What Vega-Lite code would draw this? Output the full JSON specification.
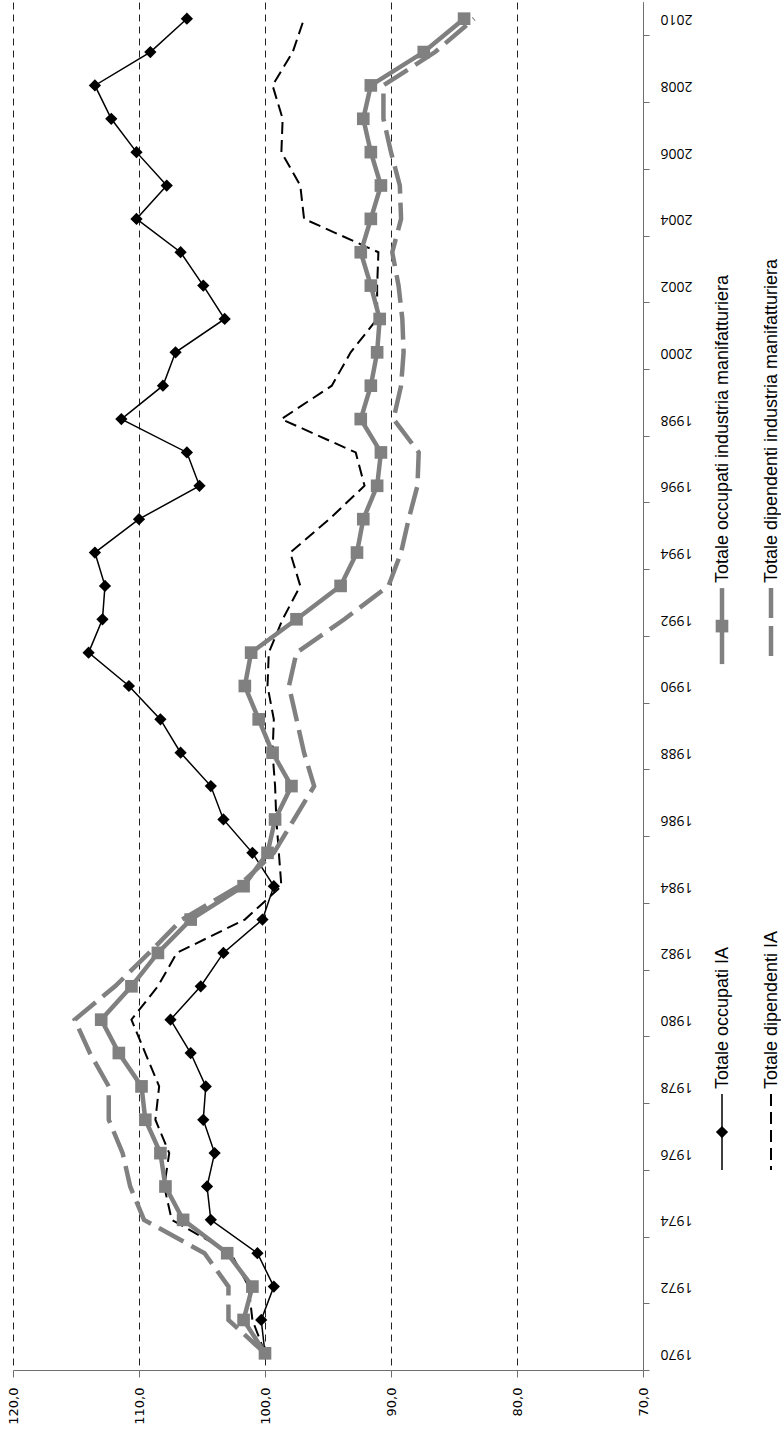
{
  "$schema": "https://vega.github.io/schema/vega-lite/v6.json",
  "background": "white",
  "padding": {"left": 7, "top": 2, "right": 0, "bottom": 0},
  "spacing": 20,
  "config": {"view": {"stroke": null}},
  "hconcat": [
    {
      "width": 630,
      "height": 1368,
      "data": {"values": [
        {"anno": 1970, "occ_ia": 100.0, "dip_ia": 100.0, "occ_man": 100.0, "dip_man": 100.0},
        {"anno": 1971, "occ_ia": 100.3, "dip_ia": 101.0, "occ_man": 101.7, "dip_man": 102.9},
        {"anno": 1972, "occ_ia": 99.3, "dip_ia": 101.3, "occ_man": 101.0, "dip_man": 102.9},
        {"anno": 1973, "occ_ia": 100.6, "dip_ia": 102.7, "occ_man": 103.0, "dip_man": 104.8},
        {"anno": 1974, "occ_ia": 104.3, "dip_ia": 107.4, "occ_man": 106.5, "dip_man": 109.6},
        {"anno": 1975, "occ_ia": 104.6, "dip_ia": 108.0, "occ_man": 107.9, "dip_man": 110.7},
        {"anno": 1976, "occ_ia": 104.0, "dip_ia": 107.6, "occ_man": 108.3, "dip_man": 111.3},
        {"anno": 1977, "occ_ia": 104.9, "dip_ia": 108.7, "occ_man": 109.5, "dip_man": 112.4},
        {"anno": 1978, "occ_ia": 104.7, "dip_ia": 108.4, "occ_man": 109.8, "dip_man": 112.4},
        {"anno": 1979, "occ_ia": 105.9, "dip_ia": 109.5, "occ_man": 111.6, "dip_man": 113.9},
        {"anno": 1980, "occ_ia": 107.5, "dip_ia": 110.6, "occ_man": 113.0, "dip_man": 115.1},
        {"anno": 1981, "occ_ia": 105.1, "dip_ia": 108.5, "occ_man": 110.6, "dip_man": 111.9},
        {"anno": 1982, "occ_ia": 103.3, "dip_ia": 107.0, "occ_man": 108.5, "dip_man": 109.2},
        {"anno": 1983, "occ_ia": 100.2, "dip_ia": 101.6, "occ_man": 105.9, "dip_man": 106.6},
        {"anno": 1984, "occ_ia": 99.3, "dip_ia": 98.7, "occ_man": 101.7, "dip_man": 102.1},
        {"anno": 1985, "occ_ia": 101.0, "dip_ia": 98.9, "occ_man": 99.8, "dip_man": 99.3},
        {"anno": 1986, "occ_ia": 103.3, "dip_ia": 99.1, "occ_man": 99.2, "dip_man": 97.7},
        {"anno": 1987, "occ_ia": 104.3, "dip_ia": 99.2, "occ_man": 97.9, "dip_man": 96.1},
        {"anno": 1988, "occ_ia": 106.7, "dip_ia": 99.4, "occ_man": 99.4, "dip_man": 96.9},
        {"anno": 1989, "occ_ia": 108.3, "dip_ia": 99.3, "occ_man": 100.5, "dip_man": 97.5},
        {"anno": 1990, "occ_ia": 110.8, "dip_ia": 99.8, "occ_man": 101.6, "dip_man": 98.1},
        {"anno": 1991, "occ_ia": 114.0, "dip_ia": 99.7, "occ_man": 101.1, "dip_man": 97.5},
        {"anno": 1992, "occ_ia": 112.9, "dip_ia": 98.6, "occ_man": 97.5, "dip_man": 93.7},
        {"anno": 1993, "occ_ia": 112.7, "dip_ia": 97.2, "occ_man": 94.0, "dip_man": 90.2},
        {"anno": 1994, "occ_ia": 113.5, "dip_ia": 98.0, "occ_man": 92.7, "dip_man": 89.2},
        {"anno": 1995, "occ_ia": 110.0, "dip_ia": 94.9, "occ_man": 92.2, "dip_man": 88.6},
        {"anno": 1996, "occ_ia": 105.2, "dip_ia": 92.1, "occ_man": 91.1, "dip_man": 87.9},
        {"anno": 1997, "occ_ia": 106.2, "dip_ia": 92.8, "occ_man": 90.8, "dip_man": 87.8},
        {"anno": 1998, "occ_ia": 111.4, "dip_ia": 98.7, "occ_man": 92.4, "dip_man": 89.8},
        {"anno": 1999, "occ_ia": 108.1, "dip_ia": 94.7, "occ_man": 91.6, "dip_man": 89.2},
        {"anno": 2000, "occ_ia": 107.1, "dip_ia": 93.2, "occ_man": 91.1, "dip_man": 89.0},
        {"anno": 2001, "occ_ia": 103.2, "dip_ia": 91.1, "occ_man": 90.9, "dip_man": 89.1},
        {"anno": 2002, "occ_ia": 104.9, "dip_ia": 91.1, "occ_man": 91.6, "dip_man": 89.4},
        {"anno": 2003, "occ_ia": 106.7, "dip_ia": 91.0, "occ_man": 92.4, "dip_man": 89.9},
        {"anno": 2004, "occ_ia": 110.2, "dip_ia": 96.9, "occ_man": 91.6, "dip_man": 89.2},
        {"anno": 2005, "occ_ia": 107.8, "dip_ia": 97.2, "occ_man": 90.8, "dip_man": 89.3},
        {"anno": 2006, "occ_ia": 110.2, "dip_ia": 98.7, "occ_man": 91.6, "dip_man": 90.0},
        {"anno": 2007, "occ_ia": 112.2, "dip_ia": 98.6, "occ_man": 92.2, "dip_man": 90.6},
        {"anno": 2008, "occ_ia": 113.5, "dip_ia": 99.4, "occ_man": 91.6, "dip_man": 90.6},
        {"anno": 2009, "occ_ia": 109.1, "dip_ia": 97.8, "occ_man": 87.4, "dip_man": 86.5},
        {"anno": 2010, "occ_ia": 106.2, "dip_ia": 96.9, "occ_man": 84.2, "dip_man": 83.4}
      ]},
      "layer": [
        {
          "mark": {"type": "line", "color": "black", "strokeWidth": 1.5},
          "encoding": {
            "x": {"field": "occ_ia", "type": "quantitative", "title": null,
              "scale": {"domain": [120, 70], "nice": false, "zero": false},
              "axis": {"orient": "bottom", "values": [120, 110, 100, 90, 80, 70],
                "labelExpr": "format(datum.value, 'd') + ',0'",
                "labelAngle": 270, "labelAlign": "right", "labelBaseline": "middle",
                "labelFont": "DejaVu Sans", "labelFontSize": 13, "labelColor": "black",
                "labelPadding": 10, "labelFlush": false, "labelOverlap": false,
                "tickSize": 7, "tickColor": "#6e6e6e", "domainColor": "#6e6e6e",
                "grid": true, "gridColor": "#222222", "gridDash": [7, 5], "gridWidth": 1}},
            "y": {"field": "anno", "type": "quantitative", "title": null,
              "scale": {"domain": [1969.5, 2010.5], "nice": false, "zero": false},
              "axis": {"orient": "right",
                "values": [1969.5, 1970.5, 1971.5, 1972.5, 1973.5, 1974.5, 1975.5, 1976.5, 1977.5, 1978.5, 1979.5, 1980.5, 1981.5, 1982.5, 1983.5, 1984.5, 1985.5, 1986.5, 1987.5, 1988.5, 1989.5, 1990.5, 1991.5, 1992.5, 1993.5, 1994.5, 1995.5, 1996.5, 1997.5, 1998.5, 1999.5, 2000.5, 2001.5, 2002.5, 2003.5, 2004.5, 2005.5, 2006.5, 2007.5, 2008.5, 2009.5, 2010.5],
                "labelExpr": "(datum.value + 0.5) % 2 == 0 ? format(datum.value + 0.5, 'd') : ''",
                "labelOffset": -16.7, "labelAngle": 180, "labelAlign": "right", "labelBaseline": "middle",
                "labelFont": "Open Sans", "labelFontSize": 14, "labelColor": "black",
                "labelPadding": 11, "labelOverlap": false, "labelFlush": false, "labelBound": false,
                "tickSize": 6, "tickColor": "#6e6e6e", "domainColor": "#6e6e6e", "grid": false}},
            "order": {"field": "anno"}
          }
        },
        {
          "mark": {"type": "point", "shape": "diamond", "filled": true, "color": "black", "size": 150, "opacity": 1},
          "encoding": {
            "x": {"field": "occ_ia", "type": "quantitative", "title": null},
            "y": {"field": "anno", "type": "quantitative", "title": null}
          }
        },
        {
          "mark": {"type": "line", "color": "black", "strokeWidth": 2, "strokeDash": [12, 6]},
          "encoding": {
            "x": {"field": "dip_ia", "type": "quantitative", "title": null},
            "y": {"field": "anno", "type": "quantitative", "title": null},
            "order": {"field": "anno"}
          }
        },
        {
          "mark": {"type": "line", "color": "#808080", "strokeWidth": 4.5},
          "encoding": {
            "x": {"field": "occ_man", "type": "quantitative", "title": null},
            "y": {"field": "anno", "type": "quantitative", "title": null},
            "order": {"field": "anno"}
          }
        },
        {
          "mark": {"type": "point", "shape": "square", "filled": true, "color": "#808080", "size": 160, "opacity": 1},
          "encoding": {
            "x": {"field": "occ_man", "type": "quantitative", "title": null},
            "y": {"field": "anno", "type": "quantitative", "title": null}
          }
        },
        {
          "mark": {"type": "line", "color": "#808080", "strokeWidth": 4.5, "strokeDash": [28, 9]},
          "encoding": {
            "x": {"field": "dip_man", "type": "quantitative", "title": null},
            "y": {"field": "anno", "type": "quantitative", "title": null},
            "order": {"field": "anno"}
          }
        }
      ]
    },
    {
      "width": 49,
      "height": 1368,
      "data": {"values": [
        {"serie": "Totale occupati IA", "tipo": "occupati", "settore": "IA"},
        {"serie": "Totale dipendenti IA", "tipo": "dipendenti", "settore": "IA"},
        {"serie": "Totale occupati industria manifatturiera", "tipo": "occupati", "settore": "manifatturiera"},
        {"serie": "Totale dipendenti industria manifatturiera", "tipo": "dipendenti", "settore": "manifatturiera"}
      ]},
      "encoding": {
        "x": {"field": "tipo", "type": "nominal", "axis": null,
          "scale": {"type": "point", "domain": ["occupati", "dipendenti"], "padding": 0}},
        "y": {"field": "settore", "type": "nominal", "axis": null,
          "scale": {"type": "point", "domain": ["manifatturiera", "IA"], "padding": 0.8518, "align": 0.724}}
      },
      "layer": [
        {
          "transform": [{"filter": "datum.serie == 'Totale occupati IA'"}],
          "mark": {"type": "rule", "color": "black", "strokeWidth": 1.5, "yOffset": -38, "y2Offset": 38},
          "encoding": {"y2": {"field": "settore"}}
        },
        {
          "transform": [{"filter": "datum.serie == 'Totale dipendenti IA'"}],
          "mark": {"type": "rule", "color": "black", "strokeWidth": 2, "strokeDash": [12, 6], "yOffset": -38, "y2Offset": 38},
          "encoding": {"y2": {"field": "settore"}}
        },
        {
          "transform": [{"filter": "datum.serie == 'Totale occupati industria manifatturiera'"}],
          "mark": {"type": "rule", "color": "#808080", "strokeWidth": 4.5, "yOffset": -38, "y2Offset": 38},
          "encoding": {"y2": {"field": "settore"}}
        },
        {
          "transform": [{"filter": "datum.serie == 'Totale dipendenti industria manifatturiera'"}],
          "mark": {"type": "rule", "color": "#808080", "strokeWidth": 4.5, "strokeDash": [30, 8], "yOffset": -38, "y2Offset": 38},
          "encoding": {"y2": {"field": "settore"}}
        },
        {
          "transform": [{"filter": "datum.serie == 'Totale occupati IA'"}],
          "mark": {"type": "point", "shape": "diamond", "filled": true, "color": "black", "size": 150, "opacity": 1}
        },
        {
          "transform": [{"filter": "datum.serie == 'Totale occupati industria manifatturiera'"}],
          "mark": {"type": "point", "shape": "square", "filled": true, "color": "#808080", "size": 160, "opacity": 1}
        },
        {
          "mark": {"type": "text", "angle": 270, "align": "left", "baseline": "middle", "dx": 43, "dy": 1,
            "font": "Liberation Sans", "fontSize": 18, "color": "black"},
          "encoding": {"text": {"field": "serie"}}
        }
      ]
    }
  ]
}
